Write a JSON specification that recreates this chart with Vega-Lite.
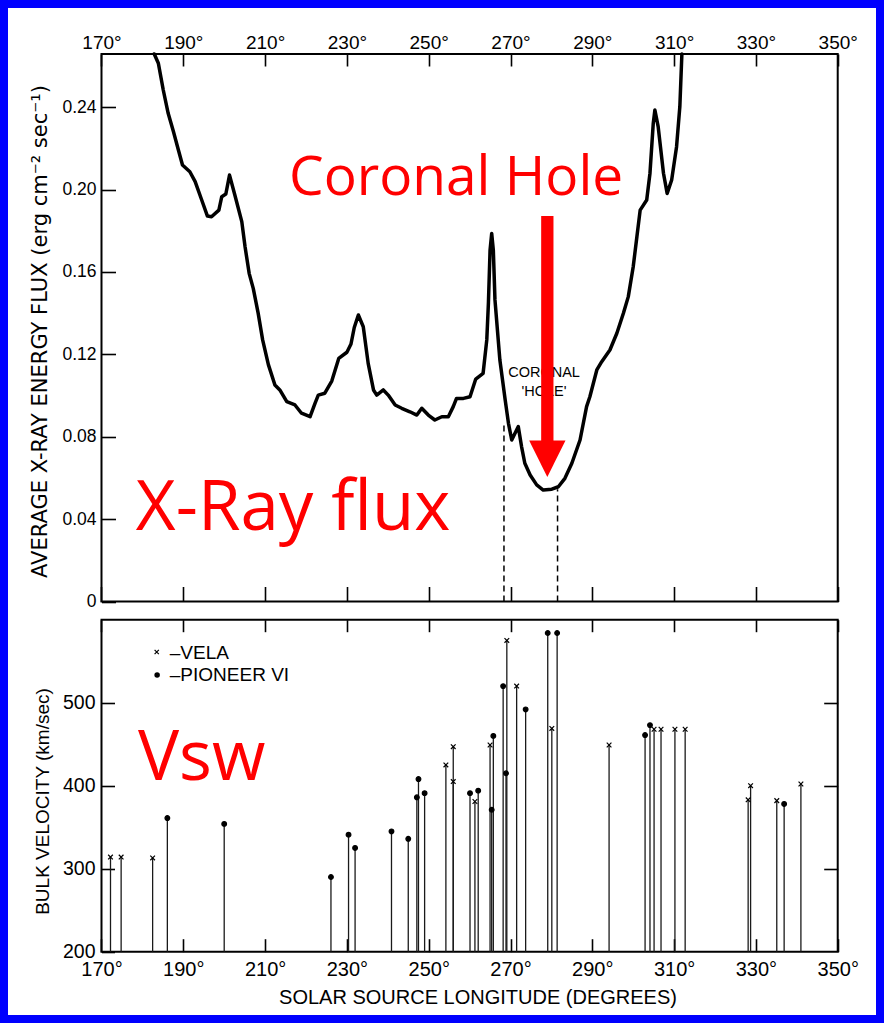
{
  "$schema": "https://vega.github.io/schema/vega-lite/v6.json",
  "background": "#0000ff",
  "padding": 8,
  "spacing": 0,
  "config": {
    "view": {"stroke": null, "fill": "white"},
    "axis": {
      "grid": false, "domain": false,
      "labelFont": "Liberation Sans", "titleFont": "Liberation Sans",
      "labelColor": "black", "titleColor": "black", "tickColor": "black",
      "tickWidth": 1.6, "titleFontWeight": "normal",
      "labelOverlap": false, "labelBound": false, "labelFlush": false
    },
    "text": {"font": "Liberation Sans"}
  },
  "vconcat": [
    {
      "width": 868,
      "height": 603,
      "resolve": {"axis": {"x": "independent", "y": "independent"}},
      "layer": [
        {
          "data": {"values": [{}]},
          "mark": {"type": "rect", "fillOpacity": 0, "stroke": "black", "strokeWidth": 2},
          "encoding": {
            "x": {"datum": 170, "type": "quantitative",
              "scale": {"domain": [147.14, 359.36], "nice": false, "zero": false},
              "axis": {"orient": "top", "offset": -46, "values": [170, 190, 210, 230, 250, 270, 290, 310, 330, 350],
                "tickSize": -12, "labelPadding": 18, "labelBaseline": "alphabetic", "labelFontSize": 19,
                "labelExpr": "datum.value + '°'", "title": null}},
            "x2": {"datum": 350},
            "y": {"datum": 0, "type": "quantitative",
              "scale": {"domain": [-0.00461, 0.28811], "nice": false, "zero": false},
              "axis": {"orient": "left", "offset": -93.5, "values": [0, 0.04, 0.08, 0.12, 0.16, 0.2, 0.24],
                "tickSize": -14, "labelPadding": 19.5, "labelFontSize": 17.5,
                "labelExpr": "datum.value == 0 ? '0' : format(datum.value, '.2f')",
                "title": "AVERAGE  X-RAY ENERGY FLUX  (erg cm⁻² sec⁻¹)", "titleFont": "DejaVu Sans", "titleFontSize": 21,
                "titleX": -61.5, "titleY": 323, "titleAngle": -90, "titleAlign": "center", "titleBaseline": "middle"}},
            "y2": {"datum": 0.2658}
          }
        },
        {
          "data": {"values": [
            {"lon": 182.9, "flux": 0.2658}, {"lon": 183.9, "flux": 0.2613}, {"lon": 185.1, "flux": 0.2483},
            {"lon": 186.3, "flux": 0.237}, {"lon": 187.6, "flux": 0.228}, {"lon": 188.8, "flux": 0.2192},
            {"lon": 189.8, "flux": 0.2119}, {"lon": 191.6, "flux": 0.2086}, {"lon": 192.9, "flux": 0.2038},
            {"lon": 194.5, "flux": 0.1949}, {"lon": 195.9, "flux": 0.1871}, {"lon": 196.9, "flux": 0.1868},
            {"lon": 198.7, "flux": 0.19}, {"lon": 199.4, "flux": 0.1965}, {"lon": 200.4, "flux": 0.1978},
            {"lon": 201.3, "flux": 0.207}, {"lon": 202.6, "flux": 0.1973}, {"lon": 204.3, "flux": 0.1844},
            {"lon": 205.1, "flux": 0.1722}, {"lon": 206.1, "flux": 0.1593}, {"lon": 207.1, "flux": 0.152},
            {"lon": 208.3, "flux": 0.14}, {"lon": 209.4, "flux": 0.127}, {"lon": 210.8, "flux": 0.115},
            {"lon": 212.4, "flux": 0.1051}, {"lon": 213.6, "flux": 0.1027}, {"lon": 215.3, "flux": 0.097},
            {"lon": 217.3, "flux": 0.0954}, {"lon": 218.9, "flux": 0.0914}, {"lon": 221.0, "flux": 0.0897},
            {"lon": 222.2, "flux": 0.0962}, {"lon": 223.0, "flux": 0.1002}, {"lon": 224.6, "flux": 0.1011},
            {"lon": 226.3, "flux": 0.107}, {"lon": 228.0, "flux": 0.118}, {"lon": 230.0, "flux": 0.121},
            {"lon": 231.0, "flux": 0.125}, {"lon": 231.8, "flux": 0.133}, {"lon": 232.8, "flux": 0.1391},
            {"lon": 234.0, "flux": 0.1334}, {"lon": 235.2, "flux": 0.1156}, {"lon": 236.5, "flux": 0.1027},
            {"lon": 237.3, "flux": 0.1002}, {"lon": 238.9, "flux": 0.1027}, {"lon": 240.1, "flux": 0.1002},
            {"lon": 241.8, "flux": 0.0954}, {"lon": 243.4, "flux": 0.0938}, {"lon": 245.4, "flux": 0.0921},
            {"lon": 247.1, "flux": 0.0905}, {"lon": 248.3, "flux": 0.0938}, {"lon": 249.9, "flux": 0.0905},
            {"lon": 251.5, "flux": 0.0881}, {"lon": 253.2, "flux": 0.0897}, {"lon": 254.8, "flux": 0.0897},
            {"lon": 256.0, "flux": 0.0946}, {"lon": 256.8, "flux": 0.0986}, {"lon": 258.5, "flux": 0.0986},
            {"lon": 260.1, "flux": 0.0994}, {"lon": 261.5, "flux": 0.108}, {"lon": 263.3, "flux": 0.1108},
            {"lon": 264.2, "flux": 0.127}, {"lon": 264.6, "flux": 0.145}, {"lon": 265.0, "flux": 0.1706},
            {"lon": 265.4, "flux": 0.1787}, {"lon": 265.8, "flux": 0.1706}, {"lon": 266.2, "flux": 0.1464},
            {"lon": 267.4, "flux": 0.1172}, {"lon": 268.7, "flux": 0.0978}, {"lon": 269.5, "flux": 0.0865},
            {"lon": 270.3, "flux": 0.0784}, {"lon": 271.1, "flux": 0.0817}, {"lon": 271.9, "flux": 0.0849},
            {"lon": 272.7, "flux": 0.0752}, {"lon": 273.5, "flux": 0.0671}, {"lon": 274.8, "flux": 0.0614},
            {"lon": 276.4, "flux": 0.0566}, {"lon": 278.0, "flux": 0.0541}, {"lon": 280.1, "flux": 0.0545},
            {"lon": 281.7, "flux": 0.0557}, {"lon": 283.3, "flux": 0.0598}, {"lon": 285.0, "flux": 0.0671},
            {"lon": 287.0, "flux": 0.0784}, {"lon": 288.6, "flux": 0.0946}, {"lon": 289.4, "flux": 0.0994},
            {"lon": 291.1, "flux": 0.1124}, {"lon": 292.3, "flux": 0.1164}, {"lon": 294.3, "flux": 0.1221},
            {"lon": 296.0, "flux": 0.1302}, {"lon": 297.6, "flux": 0.1399}, {"lon": 298.8, "flux": 0.148},
            {"lon": 300.0, "flux": 0.1625}, {"lon": 300.9, "flux": 0.1771}, {"lon": 301.7, "flux": 0.19},
            {"lon": 303.3, "flux": 0.1949}, {"lon": 304.1, "flux": 0.2079}, {"lon": 304.9, "flux": 0.2321},
            {"lon": 305.3, "flux": 0.2386}, {"lon": 306.1, "flux": 0.2305}, {"lon": 307.4, "flux": 0.2079},
            {"lon": 308.3, "flux": 0.1981}, {"lon": 309.4, "flux": 0.2046}, {"lon": 310.6, "flux": 0.2208},
            {"lon": 311.4, "flux": 0.2402}, {"lon": 311.9, "flux": 0.2658}
          ]},
          "mark": {"type": "line", "color": "black", "strokeWidth": 3.5, "strokeJoin": "round", "strokeCap": "round"},
          "encoding": {
            "x": {"field": "lon", "type": "quantitative",
              "axis": {"orient": "bottom", "offset": -9.5, "values": [170, 190, 210, 230, 250, 270, 290, 310, 330, 350],
                "tickSize": -15, "labels": false, "title": null}},
            "y": {"field": "flux", "type": "quantitative", "axis": null}
          }
        },
        {
          "data": {"values": [{}]},
          "mark": {"type": "rule", "color": "black", "strokeWidth": 1.5, "strokeDash": [6, 4]},
          "encoding": {
            "x": {"datum": 268.4, "type": "quantitative", "axis": null},
            "y": {"datum": 0, "type": "quantitative", "axis": null},
            "y2": {"datum": 0.087}
          }
        },
        {
          "data": {"values": [{}]},
          "mark": {"type": "rule", "color": "black", "strokeWidth": 1.5, "strokeDash": [6, 4]},
          "encoding": {
            "x": {"datum": 281.5, "type": "quantitative", "axis": null},
            "y": {"datum": 0, "type": "quantitative", "axis": null},
            "y2": {"datum": 0.0545}
          }
        },
        {
          "data": {"values": [{}]},
          "mark": {"type": "text", "fontSize": 14.5, "align": "center", "baseline": "middle", "lineHeight": 18.5, "color": "black"},
          "encoding": {
            "x": {"datum": 278.2, "type": "quantitative", "axis": null},
            "y": {"datum": 0.1108, "type": "quantitative", "axis": null},
            "text": {"value": ["CORONAL", "'HOLE'"]}
          }
        },
        {
          "data": {"values": [{}]},
          "mark": {"type": "rule", "color": "#ff0000", "strokeWidth": 12.3, "strokeCap": "butt"},
          "encoding": {
            "x": {"datum": 279.0, "type": "quantitative", "axis": null},
            "y": {"datum": 0.1871, "type": "quantitative", "axis": null},
            "y2": {"datum": 0.074}
          }
        },
        {
          "data": {"values": [{}]},
          "mark": {"type": "point", "shape": "M-1,-1L1,-1L0,1Z", "size": 1318, "filled": true, "color": "#ff0000", "opacity": 1, "strokeWidth": 0},
          "encoding": {
            "x": {"datum": 279.0, "type": "quantitative", "axis": null},
            "y": {"datum": 0.0693, "type": "quantitative", "axis": null}
          }
        },
        {
          "data": {"values": [{}]},
          "mark": {"type": "text", "font": "Open Sans", "fontSize": 55, "align": "center", "baseline": "alphabetic", "color": "#ff0000"},
          "encoding": {
            "x": {"datum": 256.7, "type": "quantitative", "axis": null},
            "y": {"datum": 0.1973, "type": "quantitative", "axis": null},
            "text": {"value": "Coronal Hole"}
          }
        },
        {
          "data": {"values": [{}]},
          "mark": {"type": "text", "font": "Open Sans", "fontSize": 69, "align": "left", "baseline": "alphabetic", "color": "#ff0000"},
          "encoding": {
            "x": {"datum": 178.4, "type": "quantitative", "axis": null},
            "y": {"datum": 0.0347, "type": "quantitative", "axis": null},
            "text": {"value": "X-Ray flux"}
          }
        }
      ]
    },
    {
      "width": 868,
      "height": 404,
      "resolve": {"axis": {"x": "independent", "y": "independent"}},
      "layer": [
        {
          "data": {"values": [{}]},
          "mark": {"type": "rect", "fillOpacity": 0, "stroke": "black", "strokeWidth": 2},
          "encoding": {
            "x": {"datum": 170, "type": "quantitative",
              "scale": {"domain": [147.14, 359.36], "nice": false, "zero": false},
              "axis": {"orient": "bottom", "offset": -63.3, "values": [170, 190, 210, 230, 250, 270, 290, 310, 330, 350],
                "tickSize": -13, "labelPadding": 36.5, "labelBaseline": "alphabetic", "labelFontSize": 20,
                "labelExpr": "datum.value + '°'",
                "title": "SOLAR SOURCE LONGITUDE (DEGREES)", "titleFontSize": 20,
                "titleX": 469.5, "titleY": 45.3, "titleAlign": "center", "titleBaseline": "middle"}},
            "x2": {"datum": 350},
            "y": {"datum": 200, "type": "quantitative",
              "scale": {"domain": [123.73, 610.48], "nice": false, "zero": false},
              "axis": {"orient": "left", "offset": -93.5, "values": [200, 300, 400, 500],
                "tickSize": -13, "labelPadding": 19.5, "labelFontSize": 19.5,
                "title": "BULK VELOCITY (km/sec)", "titleFontSize": 19,
                "titleX": -59.5, "titleY": 190, "titleAngle": -90, "titleAlign": "center", "titleBaseline": "middle"}},
            "y2": {"datum": 600}
          }
        },
        {
          "data": {"name": "velocity", "values": [
            {"lon": 172.2, "v": 314, "craft": "Vela"},
            {"lon": 174.8, "v": 314, "craft": "Vela"},
            {"lon": 182.5, "v": 313, "craft": "Vela"},
            {"lon": 186.1, "v": 361, "craft": "Pioneer VI"},
            {"lon": 200.0, "v": 354, "craft": "Pioneer VI"},
            {"lon": 226.1, "v": 290, "craft": "Pioneer VI"},
            {"lon": 230.4, "v": 341, "craft": "Pioneer VI"},
            {"lon": 232.0, "v": 325, "craft": "Pioneer VI"},
            {"lon": 240.9, "v": 345, "craft": "Pioneer VI"},
            {"lon": 245.0, "v": 336, "craft": "Pioneer VI"},
            {"lon": 247.1, "v": 386, "craft": "Pioneer VI"},
            {"lon": 247.5, "v": 408, "craft": "Pioneer VI"},
            {"lon": 249.0, "v": 391, "craft": "Pioneer VI"},
            {"lon": 254.2, "v": 425, "craft": "Vela"},
            {"lon": 256.0, "v": 447, "craft": "Vela"},
            {"lon": 256.0, "v": 405, "craft": "Vela"},
            {"lon": 260.1, "v": 391, "craft": "Pioneer VI"},
            {"lon": 261.3, "v": 381, "craft": "Vela"},
            {"lon": 262.1, "v": 394, "craft": "Pioneer VI"},
            {"lon": 265.0, "v": 449, "craft": "Vela"},
            {"lon": 265.4, "v": 371, "craft": "Pioneer VI"},
            {"lon": 265.8, "v": 460, "craft": "Pioneer VI"},
            {"lon": 268.2, "v": 520, "craft": "Pioneer VI"},
            {"lon": 268.9, "v": 415, "craft": "Pioneer VI"},
            {"lon": 269.1, "v": 575, "craft": "Vela"},
            {"lon": 271.5, "v": 520, "craft": "Vela"},
            {"lon": 273.7, "v": 492, "craft": "Pioneer VI"},
            {"lon": 279.1, "v": 584, "craft": "Pioneer VI"},
            {"lon": 280.1, "v": 469, "craft": "Vela"},
            {"lon": 281.4, "v": 584, "craft": "Pioneer VI"},
            {"lon": 294.1, "v": 449, "craft": "Vela"},
            {"lon": 302.9, "v": 461, "craft": "Pioneer VI"},
            {"lon": 304.1, "v": 473, "craft": "Pioneer VI"},
            {"lon": 305.1, "v": 468, "craft": "Vela"},
            {"lon": 306.8, "v": 468, "craft": "Vela"},
            {"lon": 310.2, "v": 468, "craft": "Vela"},
            {"lon": 312.7, "v": 468, "craft": "Vela"},
            {"lon": 328.1, "v": 383, "craft": "Vela"},
            {"lon": 328.7, "v": 400, "craft": "Vela"},
            {"lon": 335.1, "v": 382, "craft": "Vela"},
            {"lon": 336.9, "v": 378, "craft": "Pioneer VI"},
            {"lon": 341.0, "v": 402, "craft": "Vela"}
          ]},
          "mark": {"type": "rule", "color": "#1a1a1a", "strokeWidth": 1.3},
          "encoding": {
            "x": {"field": "lon", "type": "quantitative",
              "axis": {"orient": "top", "offset": -8.7, "values": [170, 190, 210, 230, 250, 270, 290, 310, 330, 350],
                "tickSize": -12, "labels": false, "title": null}},
            "y": {"field": "v", "type": "quantitative",
              "axis": {"orient": "right", "offset": -38.3, "values": [300, 400, 500],
                "tickSize": -14, "labels": false, "title": null}},
            "y2": {"datum": 200}
          }
        },
        {
          "data": {"name": "velocity"},
          "mark": {"type": "point", "filled": true, "fill": "black", "stroke": "black", "strokeWidth": 1.2, "size": 22, "opacity": 1},
          "encoding": {
            "x": {"field": "lon", "type": "quantitative", "axis": null},
            "y": {"field": "v", "type": "quantitative", "axis": null},
            "shape": {"field": "craft", "type": "nominal",
              "scale": {"domain": ["Vela", "Pioneer VI"], "range": ["M-1,-1L1,1M1,-1L-1,1", "circle"]},
              "legend": null}
          }
        },
        {
          "data": {"values": [{}]},
          "mark": {"type": "point", "shape": "M-1,-1L1,1M1,-1L-1,1", "filled": true, "fill": "black", "stroke": "black", "strokeWidth": 1.2, "size": 18, "opacity": 1},
          "encoding": {
            "x": {"datum": 183.5, "type": "quantitative", "axis": null},
            "y": {"datum": 561, "type": "quantitative", "axis": null}
          }
        },
        {
          "data": {"values": [{}]},
          "mark": {"type": "point", "shape": "circle", "filled": true, "color": "black", "size": 30, "opacity": 1},
          "encoding": {
            "x": {"datum": 183.6, "type": "quantitative", "axis": null},
            "y": {"datum": 533.4, "type": "quantitative", "axis": null}
          }
        },
        {
          "data": {"values": [{}]},
          "mark": {"type": "text", "fontSize": 19, "align": "left", "baseline": "middle", "color": "black"},
          "encoding": {
            "x": {"datum": 186.7, "type": "quantitative", "axis": null},
            "y": {"datum": 559.5, "type": "quantitative", "axis": null},
            "text": {"value": "–VELA"}
          }
        },
        {
          "data": {"values": [{}]},
          "mark": {"type": "text", "fontSize": 19, "align": "left", "baseline": "middle", "color": "black"},
          "encoding": {
            "x": {"datum": 186.7, "type": "quantitative", "axis": null},
            "y": {"datum": 533.4, "type": "quantitative", "axis": null},
            "text": {"value": "–PIONEER VI"}
          }
        },
        {
          "data": {"values": [{}]},
          "mark": {"type": "text", "font": "Open Sans", "fontSize": 69, "align": "left", "baseline": "alphabetic", "color": "#ff0000"},
          "encoding": {
            "x": {"datum": 178.9, "type": "quantitative", "axis": null},
            "y": {"datum": 406.9, "type": "quantitative", "axis": null},
            "text": {"value": "Vsw"}
          }
        }
      ]
    }
  ]
}
